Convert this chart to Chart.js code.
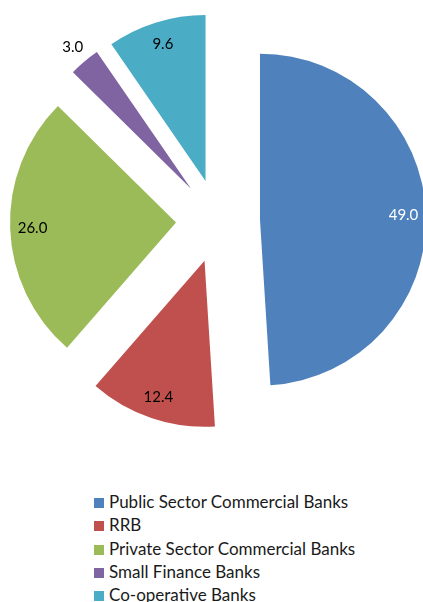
<!DOCTYPE html>
<html>
<head>
<meta charset="utf-8">
<script src="https://cdn.jsdelivr.net/npm/chart.js@4/dist/chart.umd.min.js"></script>
<style>
  html, body { margin: 0; padding: 0; background: #fff; }
  #wrap { position: relative; width: 423px; height: 602px; overflow: hidden; }
  #chartBox { position: absolute; left: 0; top: 0; width: 423px; height: 470px; }
  #legend {
    position: absolute; left: 94px; top: 490px; margin: 0; padding: 0;
    list-style: none; font-family: Lato, sans-serif; font-size: 17px; color: #1a1a1a;
  }
  #legend li { height: 23.3px; line-height: 23.3px; white-space: nowrap; }
  #legend span.box { display: inline-block; width: 10px; height: 10px; margin-right: 5px; vertical-align: 0px; }
</style>
</head>
<body>
<div id="wrap">
  <div id="chartBox"><canvas id="bankShare"></canvas></div>
  <ul id="legend"></ul>
</div>
<script>
const categories = [
  'Public Sector Commercial Banks',
  'RRB',
  'Private Sector Commercial Banks',
  'Small Finance Banks',
  'Co-operative Banks'
];
const shares = [49.0, 12.4, 26.0, 3.0, 9.6];
const sliceColors = ['#4F81BD', '#C0504D', '#9BBB59', '#8064A2', '#4BACC6'];
const valueColors = ['#ffffff', '#000000', '#000000', '#000000', '#000000'];

// every slice is pulled out from the centre by this many pixels
const EXPLODE = 42;

const explodedPie = {
  id: 'explodedPie',
  beforeDatasetDraw(chart, args) {
    const ctx = chart.ctx;
    args.meta.data.forEach(arc => {
      const mid = (arc.startAngle + arc.endAngle) / 2;
      ctx.save();
      ctx.translate(Math.cos(mid) * EXPLODE, Math.sin(mid) * EXPLODE);
      arc.draw(ctx);
      ctx.restore();
    });
    return false;
  },
  // value labels near the outer edge; thin slices get theirs outside
  afterDatasetsDraw(chart) {
    const ctx = chart.ctx;
    const ds = chart.data.datasets[0];
    const meta = chart.getDatasetMeta(0);
    ctx.save();
    ctx.font = '15px Lato, sans-serif';
    ctx.textAlign = 'center';
    ctx.textBaseline = 'middle';
    meta.data.forEach((arc, i) => {
      const mid = (arc.startAngle + arc.endAngle) / 2;
      const narrow = (arc.endAngle - arc.startAngle) < 0.3;
      const r = EXPLODE + arc.outerRadius * (narrow ? 1.11 : 0.865);
      ctx.fillStyle = narrow ? '#000000' : valueColors[i];
      ctx.fillText(ds.data[i].toFixed(1), arc.x + Math.cos(mid) * r, arc.y + Math.sin(mid) * r);
    });
    ctx.restore();
  }
};

const chart = new Chart(document.getElementById('bankShare').getContext('2d'), {
  type: 'pie',
  data: {
    labels: categories,
    datasets: [{
      data: shares,
      backgroundColor: sliceColors,
      borderWidth: 0,
      clip: false
    }]
  },
  options: {
    responsive: true,
    maintainAspectRatio: false,
    animation: false,
    layout: { padding: { left: 13, right: 0, top: 55, bottom: 83 } },
    plugins: {
      legend: { display: false },
      tooltip: { enabled: false }
    }
  },
  plugins: [explodedPie]
});

// legend list under the pie
const legendList = document.getElementById('legend');
categories.forEach((name, i) => {
  const li = document.createElement('li');
  const box = document.createElement('span');
  box.className = 'box';
  box.style.background = sliceColors[i];
  li.appendChild(box);
  li.appendChild(document.createTextNode(name));
  legendList.appendChild(li);
});
</script>
</body>
</html>
